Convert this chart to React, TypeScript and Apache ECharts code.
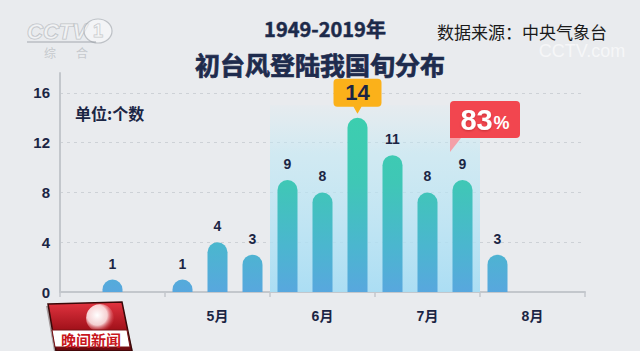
import React, { useEffect, useRef } from 'react';
import * as echarts from 'echarts';

// ---- data ----
const MONTHS = ['4月', '5月', '6月', '7月', '8月'];
const DEKADS = ['上旬', '中旬', '下旬'];
const categories = MONTHS.flatMap((m) => DEKADS.map((d) => m + d));
const counts = [0, 1, 0, 1, 4, 3, 9, 8, 14, 11, 8, 9, 3, 0, 0];
const yTicks = [0, 4, 8, 12, 16];
const HIGHLIGHT = ['6月上旬', '7月下旬'];
const TITLE_YEAR = '1949-2019年';
const TITLE = '初台风登陆我国旬分布';
const SOURCE = '数据来源：中央气象台';
const UNIT = '单位:个数';
const LOGO_TEXT = '晚间新闻';

const NAVY = '#1b2544';
const NUM_FONT = "'Liberation Sans', 'Noto Sans CJK SC', sans-serif";
const CJK_FONT = "'Noto Sans CJK SC', 'Noto Sans', sans-serif";

export default function App() {
  const ref = useRef<HTMLDivElement>(null);

  useEffect(() => {
    if (!ref.current) return;
    const chart = echarts.init(ref.current, undefined, { renderer: 'svg' });

    const peak = Math.max(...counts);
    const peakIdx = counts.indexOf(peak);
    const hlStart = categories.indexOf(HIGHLIGHT[0]);
    const hlEnd = categories.indexOf(HIGHLIGHT[1]);
    const total = counts.reduce((a, b) => a + b, 0);
    const hlSum = counts.slice(hlStart, hlEnd + 1).reduce((a, b) => a + b, 0);
    const share = Math.round((hlSum / total) * 100);
    const yMax = yTicks[yTicks.length - 1] * 1.1;

    const barGradient = new echarts.graphic.LinearGradient(
      0, 110, 0, 292,
      [
        { offset: 0, color: '#3ccfae' },
        { offset: 0.4, color: '#3fc7b6' },
        { offset: 0.75, color: '#4bb6cf' },
        { offset: 1, color: '#58a7de' },
      ],
      true
    );

    const option: any = {
      animation: false,
      backgroundColor: '#e9ebee',
      textStyle: { fontFamily: CJK_FONT },
      grid: { left: 60, right: 55, top: 73, bottom: 59, containLabel: false },
      xAxis: {
        type: 'category',
        data: categories,
        boundaryGap: true,
        axisLine: { show: true, lineStyle: { color: '#c3c7cc', width: 2 } },
        axisTick: {
          show: true,
          interval: (i: number) => i % 3 === 0,
          length: 5,
          lineStyle: { color: '#c3c7cc', width: 1.5 },
        },
        axisLabel: {
          interval: (i: number) => i % 3 === 1,
          formatter: (v: string) => v.slice(0, v.indexOf('月') + 1),
          color: NAVY,
          fontSize: 14,
          fontWeight: 'bold',
          fontFamily: NUM_FONT,
          margin: 17,
        },
        splitLine: { show: false },
      },
      yAxis: {
        type: 'value',
        min: 0,
        max: yMax,
        interval: 4,
        axisLine: { show: true, lineStyle: { color: '#c3c7cc', width: 2 } },
        axisTick: { show: false },
        axisLabel: {
          formatter: (v: number) => (yTicks.includes(v) ? String(v) : ''),
          color: NAVY,
          fontSize: 15,
          fontWeight: 'bold',
          fontFamily: NUM_FONT,
          margin: 10,
        },
        splitLine: {
          show: true,
          showMaxLine: false,
          showMinLine: false,
          lineStyle: { color: '#cdd1d6', type: [3, 4], width: 1 },
        },
      },
      series: [
        {
          type: 'bar',
          z: 3,
          barWidth: 20,
          data: counts.map((v, i) =>
            i === peakIdx ? { value: v, label: { show: false } } : v
          ),
          itemStyle: { color: barGradient, borderRadius: [10, 10, 0, 0] },
          label: {
            show: true,
            position: 'top',
            distance: 9,
            formatter: (p: any) => (p.value > 0 ? String(p.value) : ''),
            color: NAVY,
            fontSize: 14,
            fontWeight: 'bold',
            fontFamily: NUM_FONT,
          },
          markPoint: {
            silent: true,
            data: [
              {
                coord: [categories[peakIdx], peak],
                value: peak,
                symbol:
                  'path://M4,0 L44,0 Q48,0 48,4 L48,24 Q48,28 44,28 L28,28 L24,35 L20,28 L4,28 Q0,28 0,24 L0,4 Q0,0 4,0 Z',
                symbolSize: [48, 35],
                symbolOffset: [0, -21.5],
                itemStyle: { color: '#fbb11a' },
                label: {
                  show: true,
                  position: 'inside',
                  offset: [0, -3.5],
                  formatter: '{c}',
                  color: NAVY,
                  fontSize: 22,
                  lineHeight: 22,
                  fontWeight: 'bold',
                  fontFamily: NUM_FONT,
                },
              },
              {
                coord: [categories[hlEnd], peak],
                value: share,
                symbol:
                  'path://M4,0 L66,0 Q70,0 70,4 L70,33 Q70,37 66,37 L0,37 L0,4 Q0,0 4,0 Z',
                symbolSize: [70, 37],
                symbolOffset: [22.5, 1.7],
                itemStyle: { color: '#f2464f' },
                label: {
                  show: true,
                  position: 'inside',
                  offset: [0, 1],
                  formatter: (p: any) => `{a|${p.value}}{b|%}`,
                  rich: {
                    a: {
                      color: '#ffffff',
                      fontSize: 29,
                      fontWeight: 'bold',
                      fontFamily: NUM_FONT,
                      textShadowColor: 'rgba(120,0,0,0.35)',
                      textShadowBlur: 2,
                      textShadowOffsetY: 1,
                    },
                    b: {
                      color: '#ffffff',
                      fontSize: 18,
                      fontWeight: 'bold',
                      fontFamily: NUM_FONT,
                      padding: [6, 0, 0, 1],
                    },
                  },
                },
              },
              {
                coord: [categories[hlEnd], peak],
                symbol: 'path://M0,0 L11,0 L0,14 Z',
                symbolSize: [11, 14],
                symbolOffset: [-7, 27.2],
                itemStyle: { color: '#f4a0a8' },
                label: { show: false },
              },
            ],
          },
        },
      ],
    };

    chart.setOption(option);

    const c0 = chart.convertToPixel({ xAxisIndex: 0 }, categories[0]) as number;
    const c1 = chart.convertToPixel({ xAxisIndex: 0 }, categories[1]) as number;
    const band = c1 - c0;
    const xL = (chart.convertToPixel({ xAxisIndex: 0 }, categories[hlStart]) as number) - band / 2;
    const xR = (chart.convertToPixel({ xAxisIndex: 0 }, categories[hlEnd]) as number) + band / 2;
    const yT = chart.convertToPixel({ yAxisIndex: 0 }, yTicks[yTicks.length - 1] - 1) as number;
    const yB = chart.convertToPixel({ yAxisIndex: 0 }, 0) as number;

    const wmStroke = 'rgba(150,155,162,0.55)';
    const wmFill = 'rgba(255,255,255,0.45)';

    chart.setOption({
      graphic: [
        {
          id: 'hl',
          type: 'rect',
          z: 1,
          silent: true,
          shape: { x: xL, y: yT, width: xR - xL, height: yB - yT },
          style: {
            fill: new echarts.graphic.LinearGradient(0, 0, 0, 1, [
              { offset: 0, color: 'rgba(200,236,246,0.1)' },
              { offset: 0.25, color: 'rgba(190,232,245,0.55)' },
              { offset: 1, color: 'rgba(168,221,244,0.95)' },
            ]),
          },
        },
        // titles
        {
          id: 't1', type: 'text', z: 5, x: 325, y: 28,
          style: {
            text: TITLE_YEAR, fill: '#1c2a4a', fontSize: 20, lineHeight: 20,
            fontWeight: 'bold', fontFamily: CJK_FONT, align: 'center',
            verticalAlign: 'middle', stroke: '#1c2a4a', lineWidth: 0.5,
          },
        },
        {
          id: 't2', type: 'text', z: 5, x: 320, y: 64,
          style: {
            text: TITLE, fill: '#1e2b4d', fontSize: 25, lineHeight: 25,
            fontWeight: 'bold', fontFamily: CJK_FONT, align: 'center',
            verticalAlign: 'middle', stroke: '#1e2b4d', lineWidth: 0.7,
          },
        },
        {
          id: 'src', type: 'text', z: 5, x: 437, y: 31,
          style: {
            text: SOURCE, fill: '#1a1a1a', fontSize: 17, lineHeight: 17,
            fontFamily: CJK_FONT, verticalAlign: 'middle',
          },
        },
        {
          id: 'unit', type: 'text', z: 5, x: 75, y: 113,
          style: {
            text: UNIT, fill: NAVY, fontSize: 16, fontWeight: 'bold',
            fontFamily: CJK_FONT, verticalAlign: 'middle',
          },
        },
        // CCTV1 watermark
        {
          id: 'cctv', type: 'text', z: 5, x: 27, y: 31,
          style: {
            text: 'CCTV', fill: wmFill, stroke: wmStroke, lineWidth: 1.2,
            fontSize: 22, fontWeight: 'bold', fontStyle: 'italic',
            fontFamily: NUM_FONT, verticalAlign: 'middle',
          },
        },
        {
          id: 'cctv1', type: 'ellipse', z: 5,
          shape: { cx: 98, cy: 31, rx: 14, ry: 12 },
          style: { fill: wmFill, stroke: wmStroke, lineWidth: 1.2 },
        },
        {
          id: 'cctv1t', type: 'text', z: 6, x: 98, y: 31,
          style: {
            text: '1', fill: wmFill, stroke: wmStroke, lineWidth: 1,
            fontSize: 18, fontWeight: 'bold', fontFamily: NUM_FONT,
            align: 'center', verticalAlign: 'middle',
          },
        },
        {
          id: 'cctvline', type: 'line', z: 5,
          shape: { x1: 27, y1: 42, x2: 96, y2: 42 },
          style: { stroke: wmStroke, lineWidth: 1.5 },
        },
        {
          id: 'zh1', type: 'text', z: 5, x: 50, y: 52,
          style: {
            text: '综', fill: 'rgba(160,165,170,0.5)', fontSize: 12,
            fontFamily: CJK_FONT, align: 'center', verticalAlign: 'middle',
          },
        },
        {
          id: 'zh2', type: 'text', z: 5, x: 82, y: 52,
          style: {
            text: '合', fill: 'rgba(160,165,170,0.5)', fontSize: 12,
            fontFamily: CJK_FONT, align: 'center', verticalAlign: 'middle',
          },
        },
        {
          id: 'cctvcom', type: 'text', z: 5, x: 582, y: 51,
          style: {
            text: 'CCTV.com', fill: 'rgba(255,255,255,0.6)', fontSize: 18,
            lineHeight: 18, fontFamily: NUM_FONT, align: 'center',
            verticalAlign: 'middle',
          },
        },
        // 晚间新闻 logo
        {
          id: 'logoShadow', type: 'polygon', z: 20,
          shape: { points: [[46, 306], [121, 304], [133, 351], [54, 351]] },
          style: { fill: 'rgba(40,10,10,0.35)' },
        },
        {
          id: 'logoBox', type: 'polygon', z: 21,
          shape: { points: [[48, 304], [122, 302], [132, 351], [56, 351]] },
          style: {
            fill: new echarts.graphic.LinearGradient(0, 0, 0, 1, [
              { offset: 0, color: '#e23440' },
              { offset: 0.55, color: '#a3121b' },
              { offset: 1, color: '#6a080e' },
            ]),
            stroke: '#3a0808',
            lineWidth: 1.5,
          },
        },
        {
          id: 'globe', type: 'circle', z: 22,
          shape: { cx: 100, cy: 318, r: 14 },
          style: {
            fill: new echarts.graphic.RadialGradient(0.4, 0.4, 0.65, [
              { offset: 0, color: 'rgba(255,255,255,1)' },
              { offset: 0.55, color: 'rgba(255,240,240,0.85)' },
              { offset: 1, color: 'rgba(220,60,70,0)' },
            ]),
          },
        },
        {
          id: 'logoBand', type: 'polygon', z: 23,
          shape: { points: [[52, 330], [127, 330], [130, 347], [55, 347]] },
          style: { fill: '#ffffff', stroke: '#7a1015', lineWidth: 1 },
        },
        {
          id: 'logoText', type: 'text', z: 24, x: 91, y: 339,
          style: {
            text: LOGO_TEXT, fill: '#c8161d', fontSize: 15, fontWeight: 'bold',
            fontFamily: CJK_FONT, align: 'center', verticalAlign: 'middle',
          },
        },
      ],
    });

    return () => chart.dispose();
  }, []);

  return (
    <div
      ref={ref}
      style={{
        position: 'absolute',
        left: 0,
        top: 0,
        width: 640,
        height: 351,
        background: '#e9ebee',
      }}
    />
  );
}
